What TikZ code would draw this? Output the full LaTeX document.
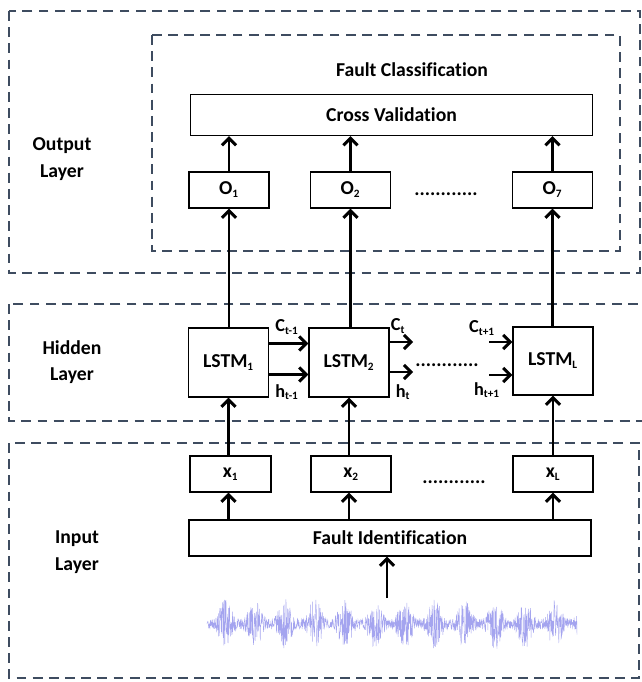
\documentclass[tikz,border=0pt]{standalone}
\usepackage{fontspec}
\setmainfont{Carlito}[Ligatures=NoCommon]
\definecolor{dashgray}{RGB}{62,76,96}
\definecolor{sigblue}{RGB}{115,115,230}
\usetikzlibrary{arrows.meta,calc}
\newcommand{\lsub}[1]{\textsubscript{\fontsize{8}{8}\selectfont #1}}

\begin{document}
\begin{tikzpicture}[x=0.025cm, y=-0.025cm, font=\bfseries\fontsize{14}{19}\selectfont,
  layer/.style={draw=dashgray, line width=2pt, dash pattern=on 7pt off 4.5pt},
  block/.style={draw, line width=0.9pt, inner sep=0pt, fill=white},
  small/.style={font=\bfseries\fontsize{13}{15}\selectfont},
  flow/.style={-{Straight Barb[length=5pt,width=10pt]}, line width=2.1pt}]
  \useasboundingbox (0,0) rectangle (641,682);
  % Layers
  \draw[layer] (9,11) rectangle (640,273);
  \draw[layer] (152,35) rectangle (620,251);
  \draw[layer] (9,304) rectangle (643,421);
  \draw[layer] (9,443) rectangle (639,678);
  \node[align=center] (outlab) at (62,159) {Output\\Layer};
  \node[align=center] (hidlab) at (72,362) {Hidden\\Layer};
  \node[align=center] (inlab) at (77,552) {Input\\Layer};
  % Output layer
  \node (fc) at (412,70) {Fault Classification};
  \node[block, minimum width=10.03cm, minimum height=1.025cm] (cv) at (391.5,115) {Cross Validation};
  \node[block, minimum width=2cm, minimum height=0.9cm] (o1) at (229,190) {O\lsub{1}};
  \node[block, minimum width=2cm, minimum height=0.9cm] (o2) at (350.5,190) {O\lsub{2}};
  \node[block, minimum width=2cm, minimum height=0.9cm] (o7) at (552.5,190) {O\lsub{7}};
  \node[anchor=base, inner sep=0pt] (dotso) at (446,196) {............};
  % Hidden layer
  \node[block, minimum width=1.99cm, minimum height=1.725cm] (lstm1) at (228.5,362.5) {LSTM\lsub{1}};
  \node[block, minimum width=2cm, minimum height=1.725cm] (lstm2) at (349,362.5) {LSTM\lsub{2}};
  \node[block, minimum width=2cm, minimum height=1.7cm] (lstmL) at (553,361) {LSTM\lsub{L}};
  \node[anchor=base, inner sep=0pt] (dotsh) at (447,366) {............};
  \coordinate (ct) at (413,342);
  \coordinate (ht) at (413,372);
  \coordinate (cn) at (489,342);
  \coordinate (hn) at (489,375);
  \node[small] (lc1) at (287,327) {C\lsub{t-1}};
  \node[small] (lh1) at (287,392) {h\lsub{t-1}};
  \node[small] (lc2) at (398,326) {C\lsub{t}};
  \node[small] (lh2) at (403,392) {h\lsub{t}};
  \node[small] (lc3) at (482,328) {C\lsub{t+1}};
  \node[small] (lh3) at (487,390) {h\lsub{t+1}};
  % Input layer
  \node[block, minimum width=2.02cm, minimum height=0.9cm] (x1) at (230.5,474) {x\lsub{1}};
  \node[block, minimum width=2cm, minimum height=0.9cm] (x2) at (351,474) {x\lsub{2}};
  \node[block, minimum width=2cm, minimum height=0.9cm] (xL) at (553,474) {x\lsub{L}};
  \node[anchor=base, inner sep=0pt] (dotsx) at (454,483) {............};
  \node[block, minimum width=10.05cm, minimum height=0.9cm] (fi) at (390,538) {Fault Identification};
  % Signal
  \pgfmathsetseed{11}
  \draw[sigblue, line width=0.3pt, opacity=0.65] plot[domain=207:577, samples=1300] (\x, {624 + (5 + 20*abs(sin(6*\x))^3)*rand});
  \coordinate (sig) at (387,598);
  % Arrows
  \draw[flow] (sig) -- (sig |- fi.south);
  \foreach \a/\b in {x1/lstm1, x2/lstm2, xL/lstmL}
    \draw[flow] (\b |- fi.north) -- (\b |- \a.south);
  \foreach \a/\b in {x1/lstm1, x2/lstm2, xL/lstmL}
    \draw[flow] (\b |- \a.north) -- (\b.south);
  \foreach \a/\b in {lstm1/o1, lstm2/o2, lstmL/o7}
    \draw[flow] (\b |- \a.north) -- (\b.south);
  \foreach \b in {o1, o2, o7}
    \draw[flow] (\b.north) -- (\b |- cv.south);
  \draw[flow] ($(lstm1.east)+(0,-19)$) -- ($(lstm2.west)+(0,-19)$);
  \draw[flow] ($(lstm1.east)+(0,12)$) -- ($(lstm2.west)+(0,12)$);
  \draw[flow] (lstm2.east |- ct) -- (ct);
  \draw[flow] (lstm2.east |- ht) -- (ht);
  \draw[flow] (cn) -- (lstmL.west |- cn);
  \draw[flow] (hn) -- (lstmL.west |- hn);
\end{tikzpicture}
\end{document}
